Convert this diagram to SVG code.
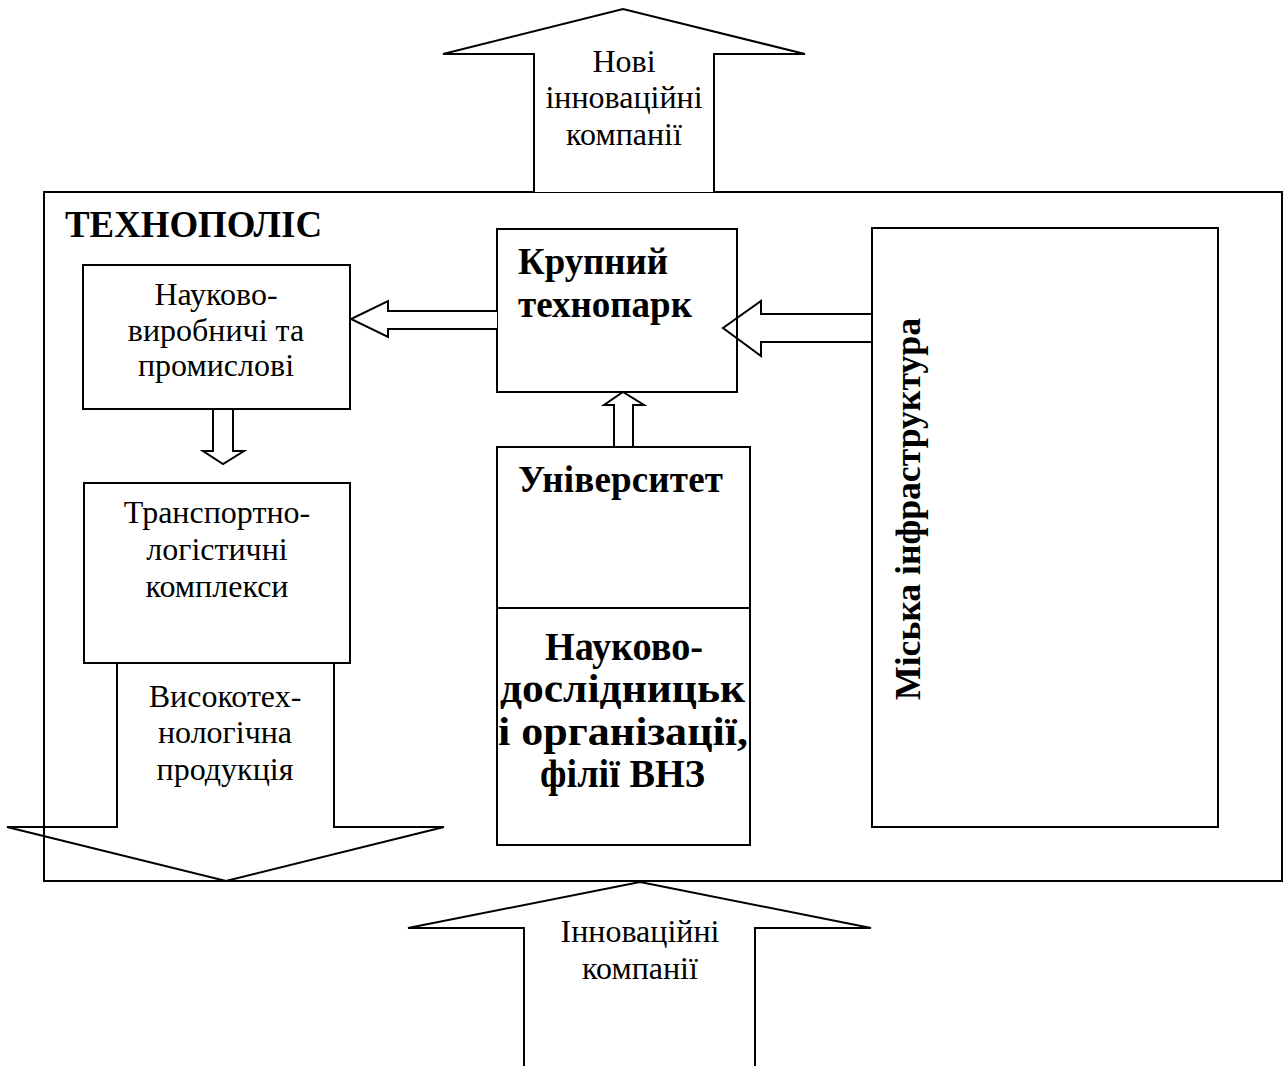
<svg xmlns="http://www.w3.org/2000/svg" width="1284" height="1066" viewBox="0 0 1284 1066">
<style>
.ln{fill:none;stroke:#000;stroke-width:2;stroke-linejoin:miter}
.bx{fill:#fff;stroke:#000;stroke-width:2}
.t{font-family:"Liberation Serif","Times New Roman",serif;font-size:32px;fill:#000;text-anchor:middle}
.b{font-family:"Liberation Serif","Times New Roman",serif;font-weight:bold;font-size:37px;fill:#000}
.b2{font-family:"Liberation Serif","Times New Roman",serif;font-weight:bold;font-size:39px;fill:#000}
</style>
<rect width="1284" height="1066" fill="#fff"/>
<g id="technopolis">
<rect class="ln" x="44" y="192" width="1238" height="689"/>
<text class="b" x="65" y="237" textLength="257" lengthAdjust="spacingAndGlyphs">ТЕХНОПОЛІС</text>
</g>
<g id="new-companies">
<path class="bx" d="M534,192 L534,54 L443,54 L623,9 L805,54 L714,54 L714,192"/>
<text class="t" x="624" y="72">Нові</text>
<text class="t" x="624" y="108">інноваційні</text>
<text class="t" x="624" y="145">компанії</text>
</g>
<g id="naukovo-vyrobnychi">
<rect class="bx" x="83" y="265" width="267" height="144"/>
<text class="t" x="216" y="305">Науково-</text>
<text class="t" x="216" y="341">виробничі та</text>
<text class="t" x="216" y="376">промислові</text>
</g>
<g id="transport">
<rect class="bx" x="84" y="483" width="266" height="180"/>
<text class="t" x="217" y="523">Транспортно-</text>
<text class="t" x="217" y="560">логістичні</text>
<text class="t" x="217" y="597">комплекси</text>
</g>
<g id="technopark">
<rect class="bx" x="497" y="229" width="240" height="163"/>
<text class="b" x="518" y="274" textLength="150" lengthAdjust="spacingAndGlyphs">Крупний</text>
<text class="b" x="518" y="317" textLength="174" lengthAdjust="spacingAndGlyphs">технопарк</text>
</g>
<g id="university">
<rect class="bx" x="497" y="447" width="253" height="398"/>
<line class="ln" x1="497" y1="608" x2="750" y2="608"/>
<text class="b" x="518" y="492" textLength="205" lengthAdjust="spacing">Університет</text>
<text class="b2" x="545" y="660" textLength="158" lengthAdjust="spacingAndGlyphs">Науково-</text>
<text class="b2" x="500" y="702" textLength="245" lengthAdjust="spacingAndGlyphs">дослідницьк</text>
<text class="b2" x="498" y="745" textLength="250" lengthAdjust="spacingAndGlyphs">і організації,</text>
<text class="b2" x="540" y="787" textLength="165" lengthAdjust="spacingAndGlyphs">філії ВНЗ</text>
</g>
<g id="city-infrastructure">
<rect class="bx" x="872" y="228" width="346" height="599"/>
<text class="b" transform="translate(920,509) rotate(-90)" text-anchor="middle" style="font-size:36px" textLength="382" lengthAdjust="spacingAndGlyphs">Міська інфраструктура</text>
</g>
<g id="innovative-companies">
<path class="ln" d="M524,1066 L524,928 L408,928 L640,882 L871,928 L755,928 L755,1066"/>
<text class="t" x="640" y="942">Інноваційні</text>
<text class="t" x="640" y="979">компанії</text>
</g>
<g id="connectors">
<path class="bx" d="M497,311 L388,311 L388,301 L351,319 L388,337 L388,329 L497,329"/>
<path class="ln" d="M871,314 L761,314 L761,301 L723,328 L761,356 L761,342 L871,342"/>
<path class="bx" d="M213,410 L213,451 L203,451 L223,464 L244,451 L233,451 L233,410"/>
<path class="bx" d="M614,446 L614,405 L604,405 L623,392 L644,405 L633,405 L633,446"/>
<path class="ln" d="M117,663 L117,827 L7,827 L226,881 L444,827 L334,827 L334,663"/>
<text class="t" x="225" y="707">Високотех-</text>
<text class="t" x="225" y="743">нологічна</text>
<text class="t" x="225" y="780">продукція</text>
</g>
</svg>
